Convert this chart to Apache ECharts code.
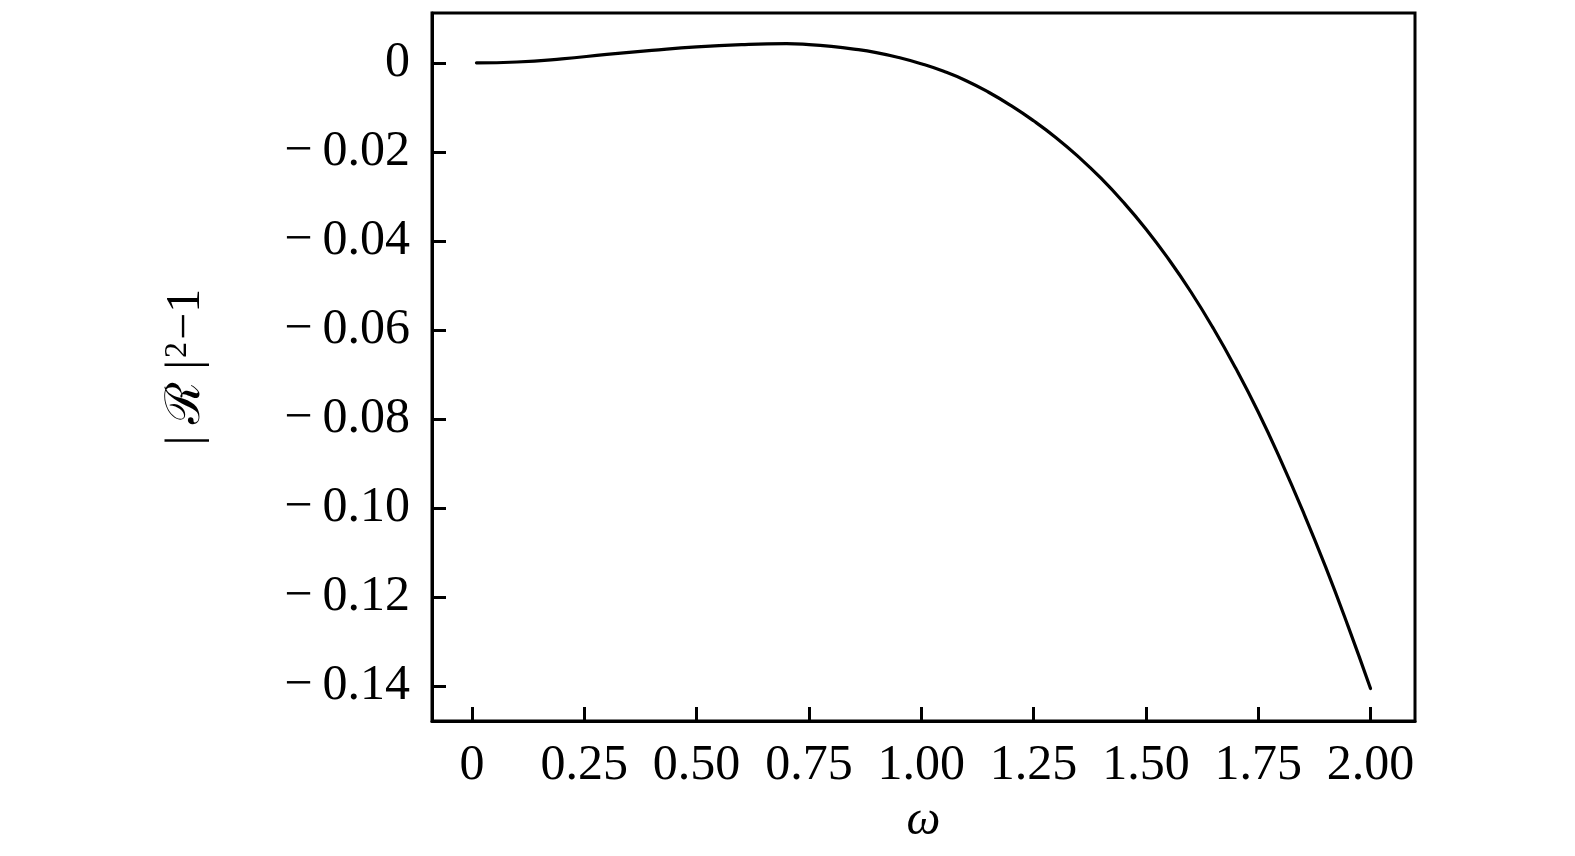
<!DOCTYPE html>
<html>
<head>
<meta charset="utf-8">
<script src="https://cdn.jsdelivr.net/npm/echarts@6/dist/echarts.min.js"></script>
<style>html,body{margin:0;padding:0;background:#fff;}#c{width:1575px;height:856px;}</style>
</head>
<body>
<div id="c"></div>
<script>
const omega = [0.01, 0.1, 0.2, 0.3, 0.4, 0.5, 0.6, 0.7, 0.75, 0.8, 0.85, 0.9, 0.95, 1.0, 1.05, 1.1, 1.15, 1.2, 1.25, 1.3, 1.35, 1.4, 1.45, 1.5, 1.55, 1.6, 1.65, 1.7, 1.75, 1.8, 1.85, 1.9, 1.95, 2.0];
const rDiff = [0.0, 0.0002, 0.0009, 0.0019, 0.0028, 0.0036, 0.0041, 0.0043, 0.0041, 0.0037, 0.0031, 0.0023, 0.0012, -0.0002, -0.0019, -0.0040, -0.0066, -0.0096, -0.0130, -0.0168, -0.0211, -0.0259, -0.0313, -0.0373, -0.0440, -0.0514, -0.0596, -0.0686, -0.0784, -0.0892, -0.1008, -0.1132, -0.1265, -0.1405];
const xTicks = [0, 0.25, 0.5, 0.75, 1.0, 1.25, 1.5, 1.75, 2.0];
const yTicks = [0, -0.02, -0.04, -0.06, -0.08, -0.10, -0.12, -0.14];

const FONT = 'Liberation Serif';
const chart = echarts.init(document.getElementById('c'), null, {renderer: 'canvas'});
const lineStyle = {color: '#000', width: 3};
chart.setOption({
  animation: false,
  backgroundColor: '#fff',
  grid: {left: 432, right: 160, top: 13, bottom: 135, show: true, borderColor: '#000', borderWidth: 3,
    backgroundColor: 'transparent', containLabel: false, outerBoundsMode: 'none'},
  xAxis: {
    type: 'value', min: -0.089, max: 2.099,
    name: 'ω', nameLocation: 'middle', nameGap: 76,
    nameTextStyle: {fontFamily: FONT, fontSize: 48, fontStyle: 'italic', color: '#000'},
    axisLine: {show: true, onZero: false, lineStyle: lineStyle},
    axisTick: {show: true, inside: true, length: 14, lineStyle: lineStyle, customValues: xTicks},
    axisLabel: {customValues: xTicks, margin: 20, fontFamily: FONT, fontSize: 50, color: '#000',
      formatter: v => (Math.abs(v) < 1e-9 ? '0' : v.toFixed(2))},
    splitLine: {show: false}
  },
  yAxis: {
    type: 'value', min: -0.1478, max: 0.0112,
    name: '{n|| ℛ |}{s|2}{n|−1}', nameLocation: 'middle', nameGap: 222, nameRotate: 90,
    nameTextStyle: {rich: {
      n: {fontFamily: FONT, fontSize: 48, color: '#000'},
      s: {fontFamily: FONT, fontSize: 32, color: '#000', padding: [0, 2, 16, 2]}
    }},
    axisLine: {show: true, onZero: false, lineStyle: lineStyle},
    axisTick: {show: true, inside: true, length: 14, lineStyle: lineStyle, customValues: yTicks},
    axisLabel: {customValues: yTicks, margin: 22, fontFamily: FONT, fontSize: 50, color: '#000',
      formatter: v => (Math.abs(v) < 1e-9 ? '0' : '−\u2009' + Math.abs(v).toFixed(2))},
    splitLine: {show: false}
  },
  series: [{
    type: 'line', data: omega.map((x, i) => [x, rDiff[i]]),
    smooth: true, showSymbol: false, symbol: 'none',
    lineStyle: {color: '#000', width: 3.2, cap: 'round'}
  }]
});
</script>
</body>
</html>
